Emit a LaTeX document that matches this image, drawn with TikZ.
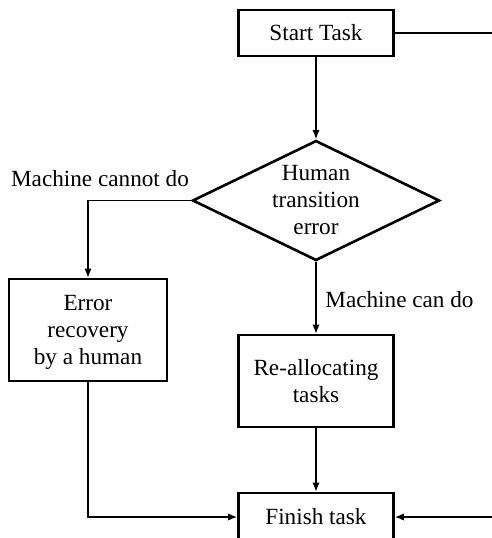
\documentclass[tikz,border=0pt]{standalone}
\usepackage{fontspec}
\setmainfont{Liberation Serif}
\usetikzlibrary{shapes.geometric,arrows.meta}
\begin{document}
\begin{tikzpicture}[x=0.5pt,y=-0.5pt,
  every node/.style={font=\fontsize{11.6}{13.5}\selectfont},
  box/.style={draw,line width=1.3pt,rectangle,inner sep=0pt,align=center},
  decision/.style={draw,line width=1.3pt,diamond,aspect=2.06,inner sep=0pt,
    minimum width=123.5pt,minimum height=60pt,align=center},
  flow/.style={line width=0.65pt,-{Latex[length=4.5pt,width=3.6pt]}},
  link/.style={line width=0.65pt},
  label/.style={inner sep=0pt}]
\clip (0,0) rectangle (492,538);

% process boxes and the decision
\node[box,minimum width=77.5pt,minimum height=23pt] (start) at (316,33) {Start Task};
\node[decision] (dec) at (316,200.5) {Human\\transition\\error};
\node[box,minimum width=79pt,minimum height=51pt,text depth=0pt] (err) at (88,330) {Error\\recovery\\by a human};
\node[box,minimum width=77.5pt,minimum height=46pt] (realloc) at (316,381) {Re-allocating\\tasks};
\node[box,minimum width=77.5pt,minimum height=24pt] (finish) at (316,517) {Finish task};

% loose ends running off to the right
\coordinate (outTop) at (492,33);
\coordinate (outBottom) at (492,517);

% connectors
\draw[flow] (start) -- (dec);
\draw[flow] (dec.west) -| (err.north);
\draw[flow] (dec) -- (realloc);
\draw[flow] (realloc) -- (finish);
\draw[flow] (err.south) |- (finish.west);
\draw[link] (start.east) -- (outTop);
\draw[flow] (outBottom) -- (finish.east);

% branch labels
\node[label,anchor=base] (cannot) at (100,186) {Machine cannot do};
\node[label,anchor=base west] (can) at (325,307) {Machine can do};
\end{tikzpicture}
\end{document}
